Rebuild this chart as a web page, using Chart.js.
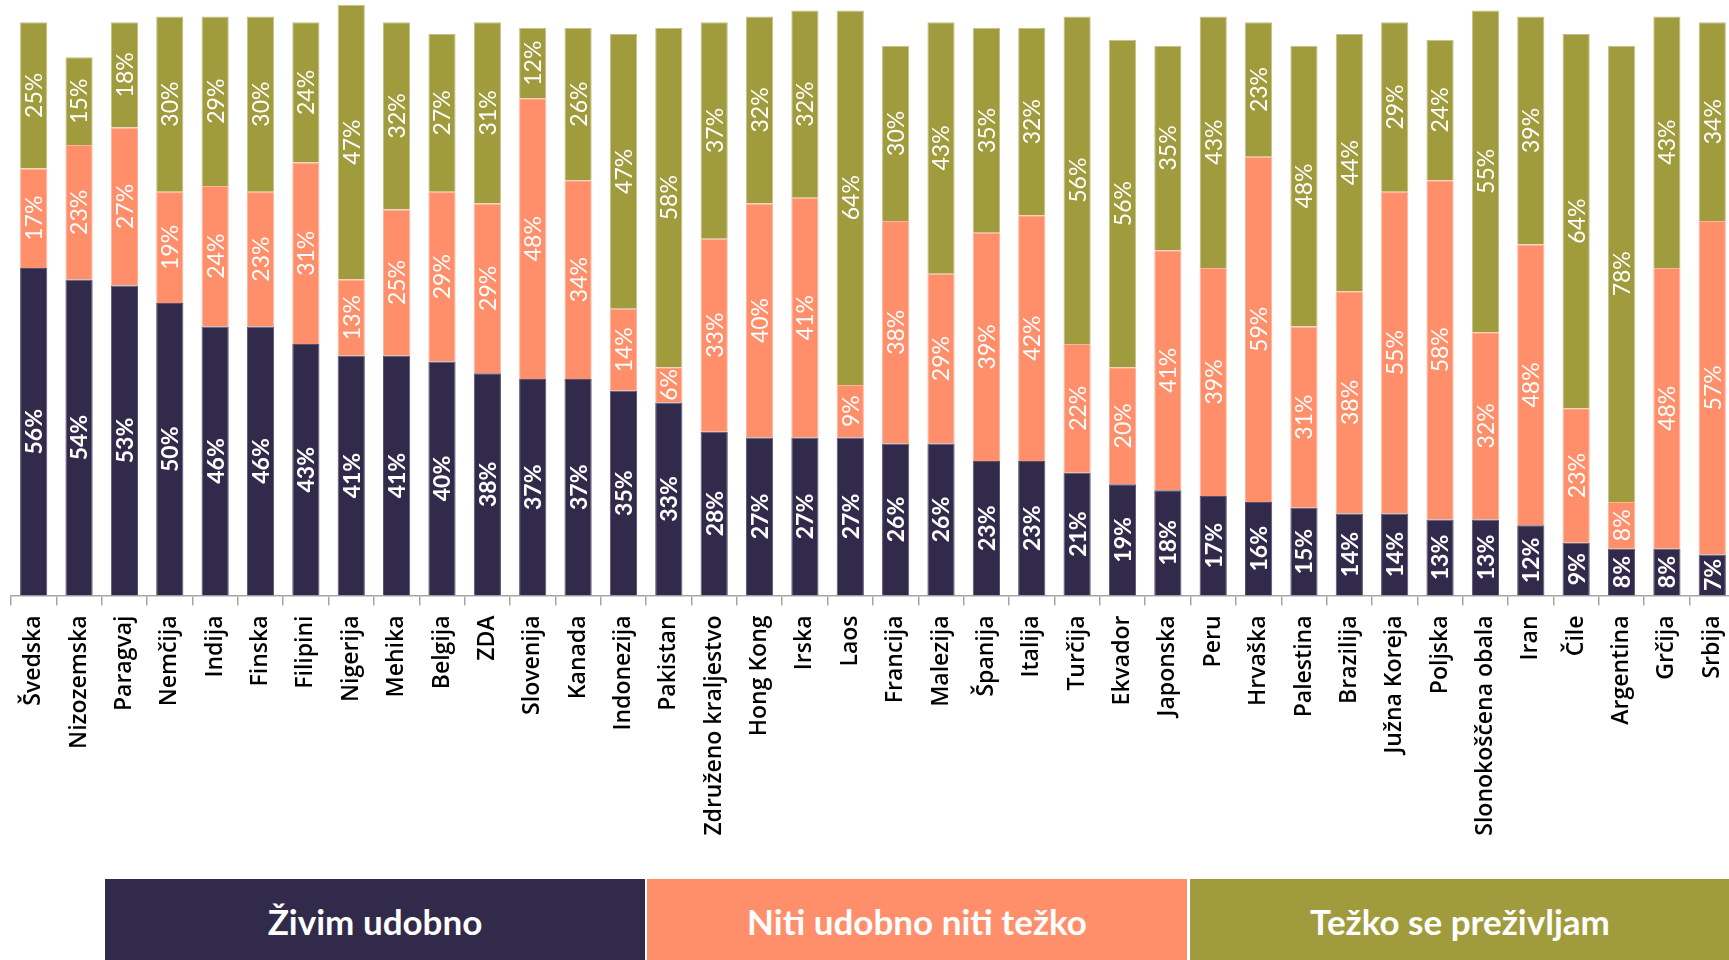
<!DOCTYPE html>
<html>
<head>
<meta charset="utf-8">
<script src="https://cdn.jsdelivr.net/npm/chart.js@4"></script>
<style>
  html, body { margin: 0; padding: 0; background: #fff; overflow: hidden; width: 1729px; height: 960px; }
  #chart { position: absolute; left: 0; top: 0; }
  .key {
    position: absolute; top: 879px; height: 84px; width: 540px;
    display: flex; align-items: center; justify-content: center;
    color: #fff; font-family: Lato, sans-serif; font-weight: 700; font-size: 35px;
  }
</style>
</head>
<body>
<canvas id="chart" width="1750" height="879"></canvas>
<div id="legend"></div>
<script>
const countries = [
  'Švedska', 'Nizozemska', 'Paragvaj', 'Nemčija', 'Indija', 'Finska', 'Filipini', 'Nigerija',
  'Mehika', 'Belgija', 'ZDA', 'Slovenija', 'Kanada', 'Indonezija', 'Pakistan', 'Združeno kraljestvo',
  'Hong Kong', 'Irska', 'Laos', 'Francija', 'Malezija', 'Španija', 'Italija', 'Turčija',
  'Ekvador', 'Japonska', 'Peru', 'Hrvaška', 'Palestina', 'Brazilija', 'Južna Koreja', 'Poljska',
  'Slonokoščena obala', 'Iran', 'Čile', 'Argentina', 'Grčija', 'Srbija'
];

const seriesNames = ['Živim udobno', 'Niti udobno niti težko', 'Težko se preživljam'];

// Živim udobno
const comfortable = [56, 54, 53, 50, 46, 46, 43, 41, 41, 40, 38, 37, 37, 35, 33, 28, 27, 27, 27, 26, 26, 23, 23, 21, 19, 18, 17, 16, 15, 14, 14, 13, 13, 12, 9, 8, 8, 7];
// Niti udobno niti težko
const neither = [17, 23, 27, 19, 24, 23, 31, 13, 25, 29, 29, 48, 34, 14, 6, 33, 40, 41, 9, 38, 29, 39, 42, 22, 20, 41, 39, 59, 31, 38, 55, 58, 32, 48, 23, 8, 48, 57];
// Težko se preživljam
const struggling = [25, 15, 18, 30, 29, 30, 24, 47, 32, 27, 31, 12, 26, 47, 58, 37, 32, 32, 64, 30, 43, 35, 32, 56, 56, 35, 43, 23, 48, 44, 29, 24, 55, 39, 64, 78, 43, 34];

const colors = ['#312a4b', '#ff8f6b', '#a09c3e'];
const edges = ['#57516f', '#ffb39a', '#c4c188'];

// white percentage labels in the middle of every segment
const barLabels = {
  id: 'barLabels',
  afterDatasetsDraw(chart) {
    const ctx = chart.ctx;
    chart.data.datasets.forEach((ds, i) => {
      const meta = chart.getDatasetMeta(i);
      meta.data.forEach((bar, j) => {
        ctx.save();
        ctx.translate(bar.x, (bar.y + bar.base) / 2);
        ctx.rotate(-Math.PI / 2);
        ctx.font = (i === 0 ? 'bold ' : '') + '23px Lato';
        ctx.fillStyle = '#fff';
        ctx.textAlign = 'center';
        ctx.textBaseline = 'middle';
        ctx.fillText(ds.data[j] + '%', 0, 1);
        ctx.restore();
      });
    });
  }
};

const series = [comfortable, neither, struggling];

new Chart(document.getElementById('chart'), {
  type: 'bar',
  data: {
    labels: countries,
    datasets: series.map((values, i) => ({
      label: seriesNames[i],
      data: values,
      backgroundColor: colors[i],
      borderColor: edges[i],
      borderWidth: 1,
      barPercentage: 0.6,
      categoryPercentage: 1,
    })),
  },
  options: {
    responsive: false,
    animation: false,
    layout: { padding: { left: 11, right: 11, top: 0, bottom: 0 } },
    plugins: { legend: { display: false }, tooltip: { enabled: false } },
    scales: {
      x: {
        stacked: true,
        grid: { offset: true, drawOnChartArea: false, tickLength: 10, color: '#a6a6a6', lineWidth: 1.5 },
        border: { color: '#a6a6a6', width: 1.5 },
        ticks: {
          autoSkip: false,
          minRotation: 90,
          maxRotation: 90,
          padding: 10,
          color: '#000',
          font: { family: 'Open Sans', size: 23, weight: '600' },
        },
        afterFit: (scale) => { scale.height = 283.5; },
      },
      y: { stacked: true, display: false, min: 0, max: 101.8 },
    },
  },
  plugins: [barLabels],
});

const legendLeft = [105, 647, 1190];
const legend = document.getElementById('legend');
seriesNames.forEach((name, i) => {
  const key = document.createElement('div');
  key.className = 'key';
  key.style.left = legendLeft[i] + 'px';
  key.style.background = colors[i];
  key.textContent = name;
  legend.appendChild(key);
});
</script>
</body>
</html>
